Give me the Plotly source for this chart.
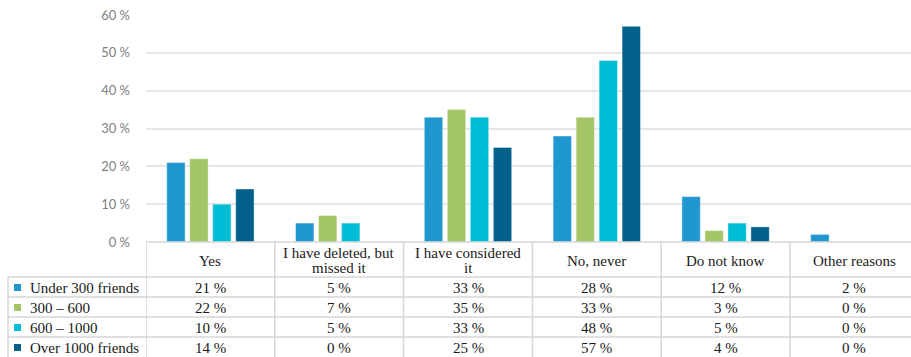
import plotly.graph_objects as go

# Survey answers (columns) and friend-count groups (rows), values in percent
categories = ["Yes", "I have deleted, but missed it", "I have considered it",
              "No, never", "Do not know", "Other reasons"]
header_lines = [["Yes"], ["I have deleted, but", "missed it"],
                ["I have considered", "it"], ["No, never"], ["Do not know"],
                ["Other reasons"]]
groups = ["Under 300 friends", "300 \u2013 600", "600 \u2013 1000", "Over 1000 friends"]
under_300 = [21, 5, 33, 28, 12, 2]
from_300_600 = [22, 7, 35, 33, 3, 0]
from_600_1000 = [10, 5, 33, 48, 5, 0]
over_1000 = [14, 0, 25, 57, 4, 0]
series = [under_300, from_300_600, from_600_1000, over_1000]
colors = ["#1f97cf", "#a3c566", "#00bdd6", "#02618b"]
y_ticks = [0, 10, 20, 30, 40, 50, 60]
y_tick_labels = [f"{v} %" for v in y_ticks]

W, H = 911, 357
L, R, T, B = 146, 0, 15, 115
PW, PH = W - L - R, H - T - B
COL_W = 128.8  # pixel width of one category column


def px_x(px):
    return (px - L) / PW


def px_y(py):
    return (H - B - py) / PH


fig = go.Figure()
for name, vals, col in zip(groups, series, colors):
    fig.add_trace(go.Bar(
        x=categories, y=vals, name=name,
        marker=dict(color=col, line=dict(color="rgba(255,255,255,0.5)", width=0.8)),
        showlegend=False, hoverinfo="x+y+name",
    ))

serif = dict(family="Liberation Serif", size=15, color="#1a1a1a")
line_col = "#d6d6d6"
shapes = []
ann = []

# table grid: row separators
row_bounds = [242, 277, 297, 317, 337]
shapes.append(dict(type="line", xref="paper", yref="paper",
                   x0=0, x1=1, y0=px_y(242), y1=px_y(242),
                   line=dict(color=line_col, width=1.5)))
for yb in row_bounds[1:]:
    shapes.append(dict(type="line", xref="paper", yref="paper",
                       x0=px_x(8), x1=1, y0=px_y(yb), y1=px_y(yb),
                       line=dict(color=line_col, width=1.5)))
# column separators at category boundaries
for i in range(len(categories)):
    shapes.append(dict(type="line", xref="x", yref="paper",
                       x0=i - 0.5, x1=i - 0.5, y0=px_y(242), y1=px_y(H + 2),
                       line=dict(color=line_col, width=1.5)))
shapes.append(dict(type="line", xref="paper", yref="paper",
                   x0=px_x(8), x1=px_x(8), y0=px_y(277), y1=px_y(H + 2),
                   line=dict(color=line_col, width=1.5)))

# header cells
for i, lines in enumerate(header_lines):
    if len(lines) == 1:
        ys = [260.5]
    else:
        ys = [253, 268]
    for txt, yy in zip(lines, ys):
        ann.append(dict(x=i, y=px_y(yy), xref="x", yref="paper", text=txt,
                        showarrow=False, xanchor="center", yanchor="middle",
                        font=serif))

# data rows with legend keys
row_centers = [287.5, 307.5, 327.5, 347.5]
for name, vals, col, yc in zip(groups, series, colors, row_centers):
    shapes.append(dict(type="rect", xref="paper", yref="paper",
                       x0=px_x(14), x1=px_x(21), y0=px_y(yc + 3.5), y1=px_y(yc - 3.5),
                       fillcolor=col, line=dict(width=0)))
    ann.append(dict(x=px_x(28), y=px_y(yc), xref="paper", yref="paper", text=name,
                    showarrow=False, xanchor="left", yanchor="middle", font=serif))
    for i, v in enumerate(vals):
        ann.append(dict(x=i, y=px_y(yc), xref="x", yref="paper", text=f"{v} %",
                        showarrow=False, xanchor="center", yanchor="middle", font=serif))

fig.update_layout(
    width=W, height=H,
    margin=dict(l=L, r=R, t=T, b=B, pad=0),
    paper_bgcolor="white", plot_bgcolor="white",
    barmode="group", bargap=0.286, bargroupgap=0.2,
    shapes=shapes, annotations=ann,
    xaxis=dict(range=[-0.5, -0.5 + PW / COL_W], showticklabels=False,
               showgrid=False, zeroline=False, showline=False, fixedrange=True),
    yaxis=dict(range=[0, 60], tickmode="array", tickvals=y_ticks, ticktext=y_tick_labels,
               showgrid=True, gridcolor="#e6e6e6", gridwidth=1.5,
               zeroline=False, showline=False, ticks="", ticklabelstandoff=15,
               tickfont=dict(family="Lato, Carlito, Liberation Sans, sans-serif",
                             size=13, color="#808080")),
)

fig.write_html("out.html")
